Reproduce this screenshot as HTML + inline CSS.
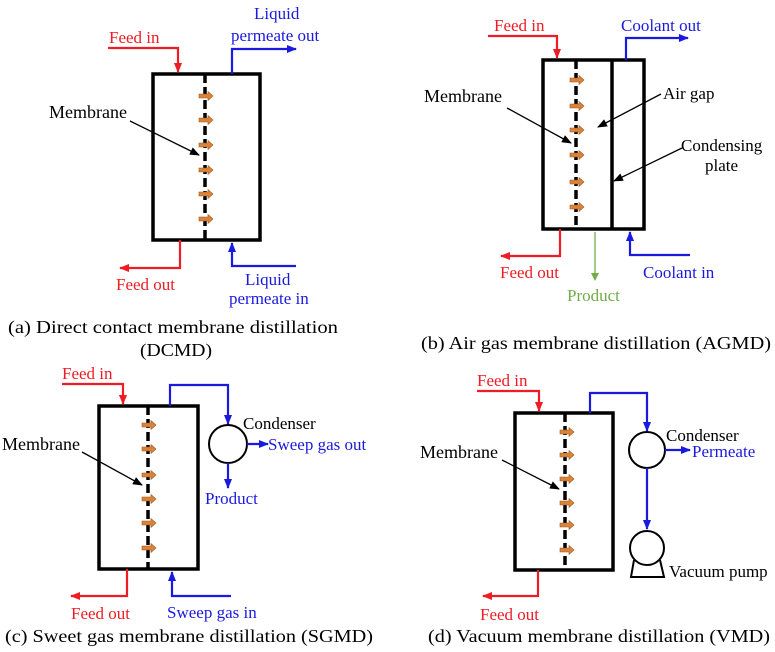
<!DOCTYPE html>
<html><head><meta charset="utf-8"><style>
html,body{margin:0;padding:0;background:#fff;}
svg{display:block;font-family:"Liberation Serif",serif;}
</style></head><body>
<svg width="775" height="652" viewBox="0 0 775 652" xmlns="http://www.w3.org/2000/svg">
<defs>
<marker id="r" markerWidth="10" markerHeight="8" refX="9" refY="4" orient="auto" markerUnits="userSpaceOnUse"><path d="M0,0 L10,4 L0,8 z" fill="#ee1c24"/></marker>
<marker id="b" markerWidth="10" markerHeight="8" refX="9" refY="4" orient="auto" markerUnits="userSpaceOnUse"><path d="M0,0 L10,4 L0,8 z" fill="#1a1adf"/></marker>
<marker id="k" markerWidth="10" markerHeight="8" refX="9" refY="4" orient="auto" markerUnits="userSpaceOnUse"><path d="M0,0 L10,4 L0,8 z" fill="#000"/></marker>
<marker id="g" markerWidth="8" markerHeight="8" refX="7" refY="4" orient="auto" markerUnits="userSpaceOnUse"><path d="M0,0 L8,4 L0,8 z" fill="#70ad47"/></marker>
<g id="oa"><path d="M-7,-2 H2 V-4.5 L7,0 L2,4.5 V2 H-7 z" fill="#d9843a" stroke="#a0561c" stroke-width="0.6"/></g>
</defs>
<style>
.box{fill:none;stroke:#000;stroke-width:3.5}
.mem{stroke:#000;stroke-width:3.5;stroke-dasharray:9,4}
.rl{fill:none;stroke:#ee1c24;stroke-width:2.2}
.bl{fill:none;stroke:#1a1adf;stroke-width:2.2}
.kl{stroke:#000;stroke-width:1.3}
.tr{fill:#ee1c24;font-size:17px}
.tb{fill:#1a1adf;font-size:17px}
.tk{fill:#000;font-size:17px}
.tm{fill:#000;font-size:18px;text-anchor:end}
.cap{fill:#000;font-size:18px}
</style>

<!-- Panel a -->
<rect class="box" x="153" y="74" width="107" height="166"/>
<line class="mem" x1="205" y1="74" x2="205" y2="240"/>
<use href="#oa" x="206" y="96"/><use href="#oa" x="206" y="120"/><use href="#oa" x="206" y="145"/>
<use href="#oa" x="206" y="170"/><use href="#oa" x="206" y="194"/><use href="#oa" x="206" y="219"/>
<path class="rl" d="M108,48 H178 V72" marker-end="url(#r)"/>
<text class="tr" x="109" y="43">Feed in</text>
<path class="bl" d="M232,74 V49 H296" marker-end="url(#b)"/>
<text class="tb" x="254" y="19">Liquid</text>
<text class="tb" x="231" y="41">permeate out</text>
<path class="rl" d="M180,240 V268 H120" marker-end="url(#r)"/>
<text class="tr" x="116" y="290">Feed out</text>
<path class="bl" d="M296,266 H232 V243" marker-end="url(#b)"/>
<text class="tb" x="245" y="285">Liquid</text>
<text class="tb" x="229" y="304">permeate in</text>
<text class="tm" x="127" y="118">Membrane</text>
<line class="kl" x1="130" y1="121" x2="199" y2="155" marker-end="url(#k)"/>
<text class="cap" x="8" y="333" textLength="330" lengthAdjust="spacingAndGlyphs">(a) Direct contact membrane distillation</text>
<text class="cap" x="140" y="356" textLength="72" lengthAdjust="spacingAndGlyphs">(DCMD)</text>

<!-- Panel b -->
<rect class="box" x="543" y="60" width="101" height="169"/>
<line class="mem" x1="576" y1="60" x2="576" y2="229"/>
<line x1="612" y1="60" x2="612" y2="229" stroke="#000" stroke-width="3.5"/>
<use href="#oa" x="577" y="80"/><use href="#oa" x="577" y="106"/><use href="#oa" x="577" y="130"/>
<use href="#oa" x="577" y="155"/><use href="#oa" x="577" y="182"/><use href="#oa" x="577" y="207"/>
<path class="rl" d="M488,36 H557 V58" marker-end="url(#r)"/>
<text class="tr" x="494" y="31">Feed in</text>
<path class="bl" d="M626,60 V38 H688" marker-end="url(#b)"/>
<text class="tb" x="621" y="31">Coolant out</text>
<path class="rl" d="M560,229 V256 H501" marker-end="url(#r)"/>
<text class="tr" x="500" y="278">Feed out</text>
<line x1="595" y1="232" x2="595" y2="280" stroke="#70ad47" stroke-width="1.3" marker-end="url(#g)"/>
<text x="567" y="301" fill="#70ad47" font-size="17">Product</text>
<path class="bl" d="M690,255 H630 V232" marker-end="url(#b)"/>
<text class="tb" x="643" y="278">Coolant in</text>
<text class="tm" x="502" y="102">Membrane</text>
<line class="kl" x1="507" y1="108" x2="571" y2="143" marker-end="url(#k)"/>
<text class="tk" x="663" y="99">Air gap</text>
<line class="kl" x1="661" y1="94" x2="598" y2="127" marker-end="url(#k)"/>
<text class="tk" x="681" y="151">Condensing</text>
<text class="tk" x="705" y="171">plate</text>
<line class="kl" x1="682" y1="148" x2="614" y2="181" marker-end="url(#k)"/>
<text class="cap" x="421" y="349" textLength="350" lengthAdjust="spacingAndGlyphs">(b) Air gas membrane distillation (AGMD)</text>

<!-- Panel c -->
<rect class="box" x="99" y="406" width="99" height="163"/>
<line class="mem" x1="148" y1="406" x2="148" y2="569"/>
<use href="#oa" x="149" y="425"/><use href="#oa" x="149" y="449"/><use href="#oa" x="149" y="475"/>
<use href="#oa" x="149" y="499"/><use href="#oa" x="149" y="523"/><use href="#oa" x="149" y="548"/>
<path class="rl" d="M62,384 H123 V404" marker-end="url(#r)"/>
<text class="tr" x="62" y="379">Feed in</text>
<path class="bl" d="M170,406 V385 H228 V424" marker-end="url(#b)"/>
<circle cx="228" cy="444" r="19" fill="none" stroke="#000" stroke-width="2"/>
<text class="tk" x="243" y="429">Condenser</text>
<line class="bl" x1="247" y1="444" x2="268" y2="444" marker-end="url(#b)"/>
<text class="tb" x="268" y="450">Sweep gas out</text>
<line class="bl" x1="228" y1="463" x2="228" y2="488" marker-end="url(#b)"/>
<text class="tb" x="205" y="504">Product</text>
<path class="rl" d="M127,569 V596 H71" marker-end="url(#r)"/>
<text class="tr" x="71" y="619">Feed out</text>
<path class="bl" d="M231,596 H172 V572" marker-end="url(#b)"/>
<text class="tb" x="167" y="618">Sweep gas in</text>
<text class="tm" x="80" y="450" font-size="17">Membrane</text>
<line class="kl" x1="82" y1="452" x2="142" y2="485" marker-end="url(#k)"/>
<text class="cap" x="5" y="642" textLength="368" lengthAdjust="spacingAndGlyphs">(c) Sweet gas membrane distillation (SGMD)</text>

<!-- Panel d -->
<rect class="box" x="515" y="413" width="98" height="157"/>
<line class="mem" x1="565" y1="413" x2="565" y2="570"/>
<use href="#oa" x="567" y="432"/><use href="#oa" x="567" y="455"/><use href="#oa" x="567" y="479"/>
<use href="#oa" x="567" y="503"/><use href="#oa" x="567" y="525"/><use href="#oa" x="567" y="550"/>
<path class="rl" d="M477,391 H539 V411" marker-end="url(#r)"/>
<text class="tr" x="477" y="386">Feed in</text>
<path class="bl" d="M590,413 V393 H647 V431" marker-end="url(#b)"/>
<circle cx="647" cy="450" r="18" fill="none" stroke="#000" stroke-width="2"/>
<text class="tk" x="666" y="441">Condenser</text>
<line class="bl" x1="665" y1="450" x2="690" y2="450" marker-end="url(#b)"/>
<text class="tb" x="692" y="457">Permeate</text>
<line class="bl" x1="647" y1="468" x2="647" y2="529" marker-end="url(#b)"/>
<circle cx="647" cy="548" r="17" fill="none" stroke="#000" stroke-width="2"/>
<path d="M634,560 L631,577 H664 L660,560" fill="none" stroke="#000" stroke-width="2"/>
<text class="tk" x="669" y="577">Vacuum pump</text>
<path class="rl" d="M538,570 V596 H483" marker-end="url(#r)"/>
<text class="tr" x="480" y="620">Feed out</text>
<text class="tm" x="498" y="458">Membrane</text>
<line class="kl" x1="502" y1="460" x2="559" y2="489" marker-end="url(#k)"/>
<text class="cap" x="428" y="642" textLength="342" lengthAdjust="spacingAndGlyphs">(d) Vacuum membrane distillation (VMD)</text>
</svg>
</body></html>
